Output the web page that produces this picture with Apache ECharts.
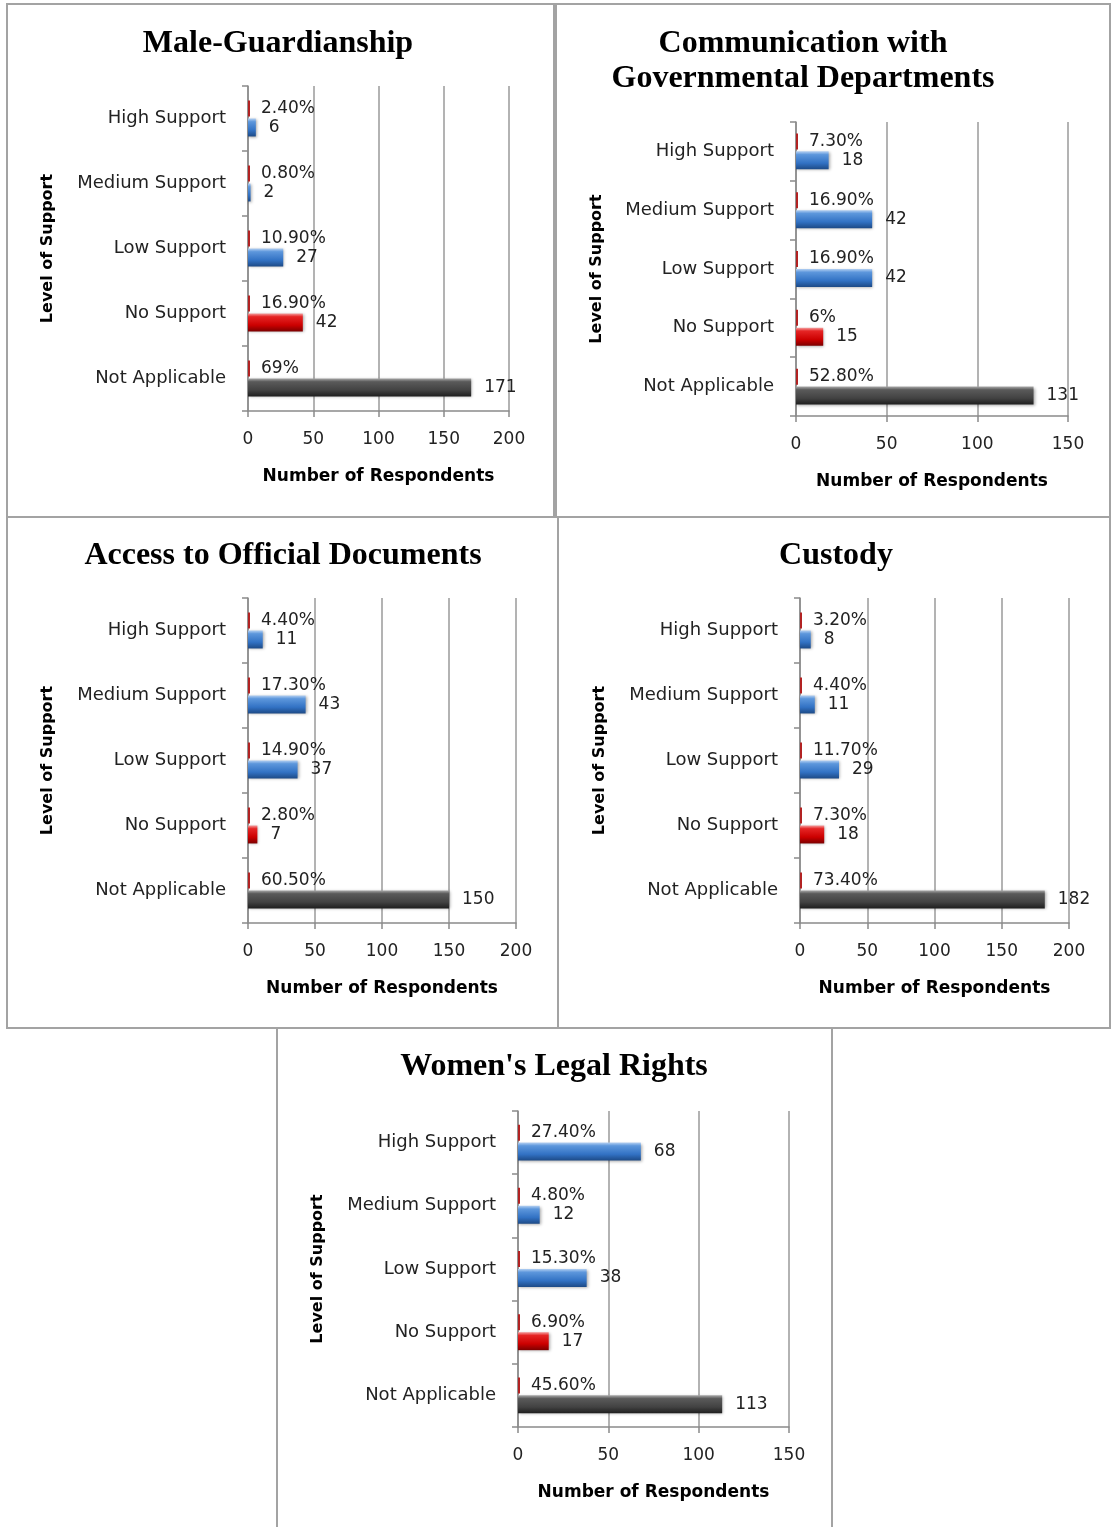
<!DOCTYPE html>
<html>
<head>
<meta charset="utf-8">
<script src="https://cdn.jsdelivr.net/npm/echarts@6/dist/echarts.min.js"></script>
<style>
html,body{margin:0;padding:0;background:#fff;}
#chart{width:1112px;height:1527px;}
</style>
</head>
<body>
<div id="chart"></div>
<script>
// ---------- DATA ----------
const categories = ['High Support', 'Medium Support', 'Low Support', 'No Support', 'Not Applicable'];

const titles = [
  'Male-Guardianship',
  'Communication with\nGovernmental Departments',
  'Access to Official Documents',
  'Custody',
  "Women's Legal Rights"
];

const maleGuardianshipCounts = [6, 2, 27, 42, 171];
const maleGuardianshipPct    = [2.4, 0.8, 10.9, 16.9, 69];

const communicationCounts = [18, 42, 42, 15, 131];
const communicationPct    = [7.3, 16.9, 16.9, 6, 52.8];

const accessDocsCounts = [11, 43, 37, 7, 150];
const accessDocsPct    = [4.4, 17.3, 14.9, 2.8, 60.5];

const custodyCounts = [8, 11, 29, 18, 182];
const custodyPct    = [3.2, 4.4, 11.7, 7.3, 73.4];

const legalRightsCounts = [68, 12, 38, 17, 113];
const legalRightsPct    = [27.4, 4.8, 15.3, 6.9, 45.6];

const xMaxes = [200, 150, 200, 200, 150];
const xTickInterval = 50;

const yAxisName = 'Level of Support';
const xAxisName = 'Number of Respondents';

// ---------- LAYOUT / STYLE ----------
const panels = [
  {counts: maleGuardianshipCounts, pct: maleGuardianshipPct, grid: {left: 248, top: 86, width: 261, height: 325}, title: {x: 278, y: 26}, border: [7, 4, 547, 513], yGap: 192},
  {counts: communicationCounts, pct: communicationPct, grid: {left: 796, top: 122, width: 272, height: 294}, title: {x: 803, y: 26}, border: [556, 4, 554, 513], yGap: 191},
  {counts: accessDocsCounts, pct: accessDocsPct, grid: {left: 248, top: 598, width: 268, height: 325}, title: {x: 283, y: 538}, border: [7, 517, 551, 511], yGap: 192},
  {counts: custodyCounts, pct: custodyPct, grid: {left: 800, top: 598, width: 269, height: 325}, title: {x: 836, y: 538}, border: [558, 517, 552, 511], yGap: 192},
  {counts: legalRightsCounts, pct: legalRightsPct, grid: {left: 518, top: 1111, width: 271, height: 316}, title: {x: 554, y: 1049}, border: [277, 1028, 555, 520], yGap: 192}
];

const G = echarts.graphic;
function grad(stops) {
  return new G.LinearGradient(0, 0, 0, 1, stops.map((c) => ({offset: c[0], color: c[1]})));
}
const blueFill = grad([[0, '#b4d0f2'], [0.18, '#5d97dc'], [0.65, '#3272c4'], [1, '#1d4a86']]);
const redFill  = grad([[0, '#f4a0a0'], [0.18, '#e52525'], [0.65, '#cc0000'], [1, '#7c0000']]);
const grayFill = grad([[0, '#a8a8a8'], [0.18, '#5a5a5a'], [0.65, '#424242'], [1, '#1e1e1e']]);
function fillFor(cat) {
  if (cat === 'No Support') return redFill;
  if (cat === 'Not Applicable') return grayFill;
  return blueFill;
}
function fmtPct(v) {
  return (Number.isInteger(v) ? String(v) : v.toFixed(2)) + '%';
}

const FONT = 'DejaVu Sans';
const option = {
  animation: false,
  backgroundColor: '#ffffff',
  title: [],
  grid: [],
  xAxis: [],
  yAxis: [],
  series: [],
  graphic: []
};

panels.forEach((p, i) => {
  option.title.push({
    text: titles[i],
    left: p.title.x,
    top: p.title.y,
    textAlign: 'center',
    padding: 0,
    textStyle: {fontFamily: 'Liberation Serif', fontWeight: 'bold', fontSize: 32, color: '#000', lineHeight: 35}
  });
  option.grid.push(Object.assign({containLabel: false}, p.grid));
  option.xAxis.push({
    type: 'value',
    gridIndex: i,
    min: 0,
    max: xMaxes[i],
    interval: xTickInterval,
    name: xAxisName,
    nameLocation: 'middle',
    nameGap: 57,
    nameTextStyle: {fontFamily: FONT, fontWeight: 'bold', fontSize: 17, color: '#000'},
    axisLine: {show: true, lineStyle: {color: '#8a8a8a', width: 1.5}},
    axisTick: {show: true, length: 6, lineStyle: {color: '#8a8a8a', width: 1.5}},
    axisLabel: {margin: 20, fontFamily: FONT, fontSize: 17, color: '#222'},
    splitLine: {show: true, lineStyle: {color: '#9a9a9a', width: 1.5}}
  });
  option.yAxis.push({
    type: 'category',
    gridIndex: i,
    data: categories,
    inverse: true,
    name: yAxisName,
    nameLocation: 'middle',
    nameGap: p.yGap,
    nameRotate: 90,
    nameTextStyle: {fontFamily: FONT, fontWeight: 'bold', fontSize: 16, color: '#000'},
    axisLine: {show: true, lineStyle: {color: '#8a8a8a', width: 1.5}},
    axisTick: {show: true, length: 6, lineStyle: {color: '#8a8a8a', width: 1.5}},
    axisLabel: {margin: 22, fontFamily: FONT, fontSize: 18, color: '#222'},
    splitLine: {show: false}
  });
  option.series.push({
    type: 'bar',
    xAxisIndex: i,
    yAxisIndex: i,
    barWidth: 16,
    barGap: '12%',
    barCategoryGap: '40%',
    barMinHeight: 2,
    data: p.pct.map(v => v / 100),
    itemStyle: {color: '#b22222'},
    label: {
      show: true,
      position: 'right',
      distance: 11,
      fontFamily: FONT,
      fontSize: 17,
      color: '#222',
      formatter: (params) => fmtPct(p.pct[params.dataIndex])
    },
    z: 3
  });
  option.series.push({
    type: 'bar',
    xAxisIndex: i,
    yAxisIndex: i,
    barWidth: 18,
    barGap: '12%',
    data: p.counts.map((v, k) => ({value: v, itemStyle: {color: fillFor(categories[k]), shadowColor: 'rgba(0,0,0,0.35)', shadowBlur: 3, shadowOffsetX: 1, shadowOffsetY: 1}})),
    label: {
      show: true,
      position: 'right',
      distance: 13,
      fontFamily: FONT,
      fontSize: 17,
      color: '#222'
    },
    z: 3
  });
  option.graphic.push({
    type: 'rect',
    shape: {x: p.border[0], y: p.border[1], width: p.border[2], height: p.border[3]},
    style: {fill: null, stroke: '#a3a3a3', lineWidth: 2},
    silent: true,
    z: -1
  });
});

const chart = echarts.init(document.getElementById('chart'), null, {renderer: 'canvas'});
chart.setOption(option);
</script>
</body>
</html>
